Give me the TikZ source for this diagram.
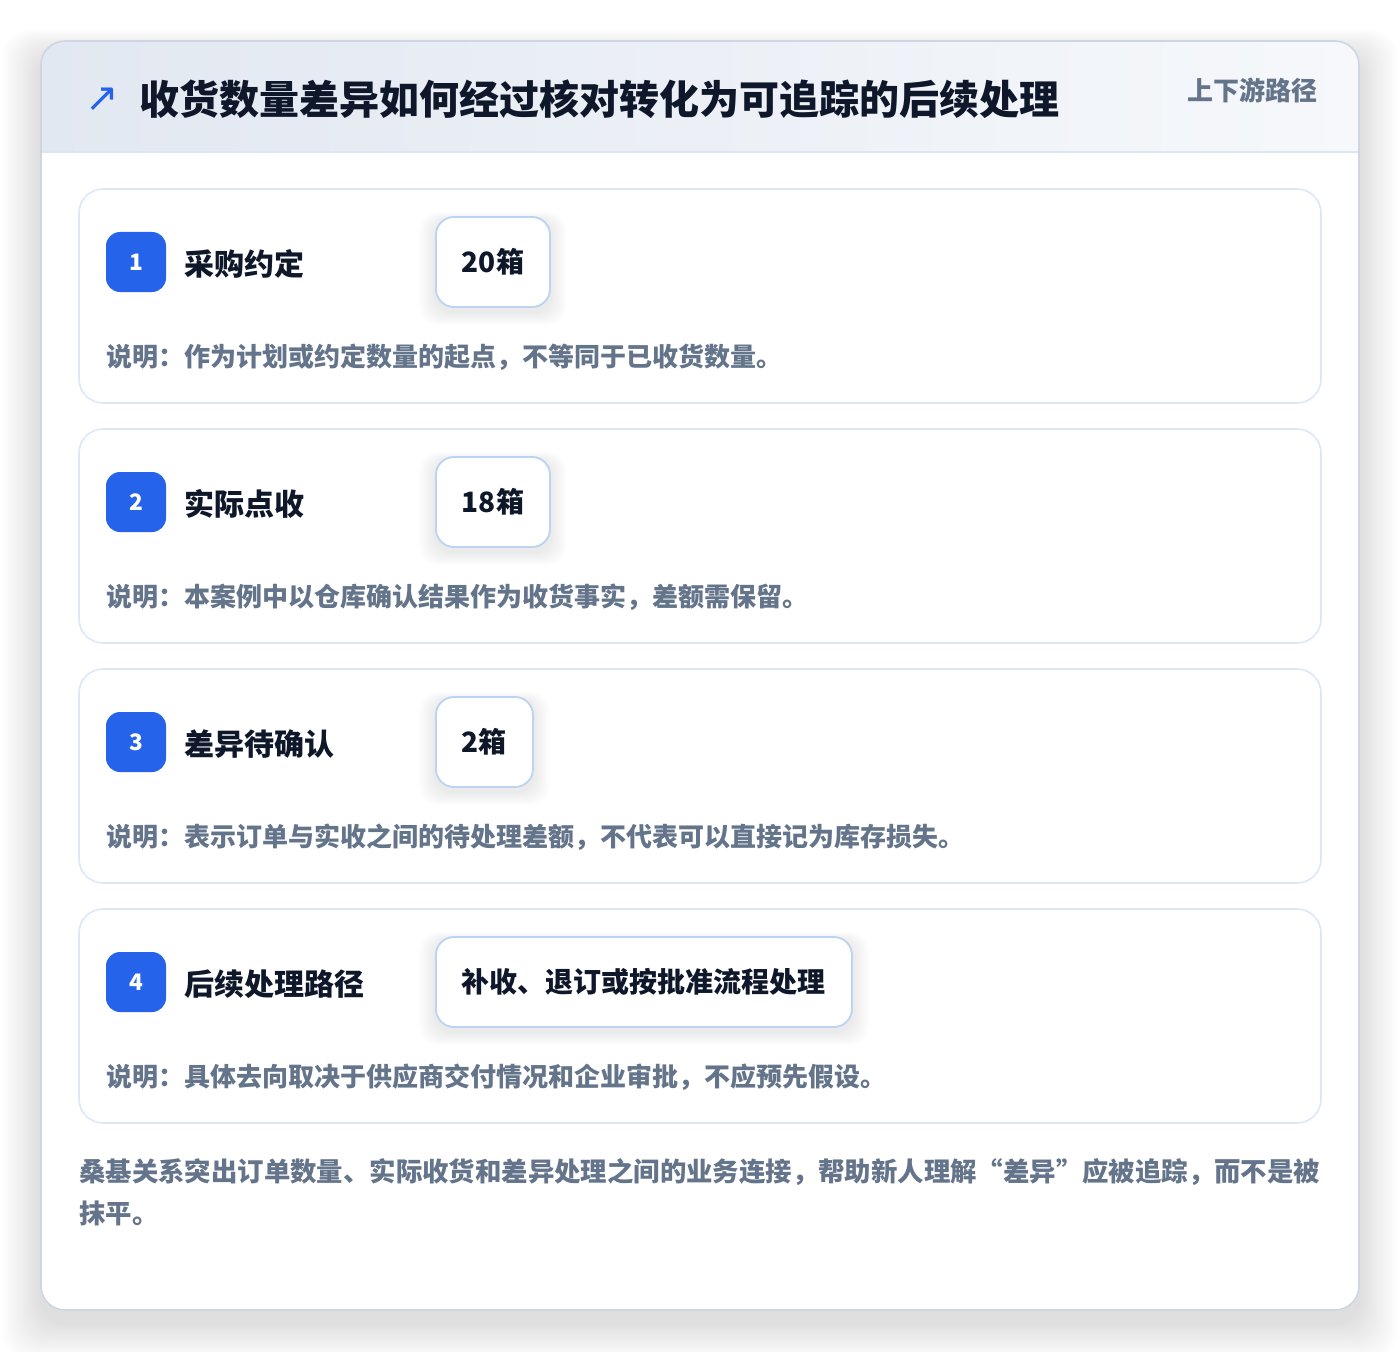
\documentclass[tikz,border=0pt]{standalone}
\usepackage{fontspec}
\setmainfont{Noto Sans CJK SC}
\newfontfamily\symfont{DejaVu Sans}
\definecolor{brand}{HTML}{2563EB}
\definecolor{ink}{HTML}{0F172A}
\definecolor{muted}{HTML}{64748B}
\definecolor{cardline}{HTML}{CDD6E2}
\definecolor{stepline}{HTML}{DCE8F7}
\definecolor{valline}{HTML}{BCD4F2}
\definecolor{headL}{HTML}{E2E8F1}
\definecolor{headR}{HTML}{F6F8FB}
\definecolor{headline}{HTML}{DAE6F6}
\pgfdeclarelayer{back}
\pgfdeclarelayer{shade}
\pgfsetlayers{back,shade,main}
\tikzset{
  stepcard/.style={draw=stepline, line width=1.2pt, fill=white, rounded corners=18pt,
    minimum width=931.5pt, minimum height=160.5pt, inner sep=0pt},
  badge/.style={fill=brand, rounded corners=10.5pt, minimum width=45pt, minimum height=45pt,
    inner sep=0pt, text=white, font=\fontsize{17pt}{18pt}\selectfont\bfseries},
  steplabel/.style={inner sep=0pt, text=ink, font=\fontsize{22.5pt}{26pt}\selectfont\bfseries},
  valbox/.style={draw=valline, line width=1.4pt, fill=white, rounded corners=13.5pt,
    minimum height=67.5pt, inner xsep=19.5pt, inner ysep=0pt, text=ink,
    font=\fontsize{21pt}{24pt}\selectfont\bfseries},
  desctext/.style={inner sep=0pt, text=muted, font=\fontsize{19.5pt}{22pt}\selectfont\bfseries},
}
\begin{document}
\begin{tikzpicture}[x=0.75pt,y=-0.75pt]
\useasboundingbox (0,0) rectangle (1400,1352);
\begin{pgfonlayer}{back}
\fill[white] (0,0) rectangle (1400,1352);
% outer card shadow
\foreach \k in {1,...,16}{
  \fill[black, opacity=0.008, rounded corners=20pt]
    ({41-\k*2.4},{41-\k*1.6+14}) rectangle ({1359+\k*2.4},{1310+\k*2.4+12});
}
% card body
\fill[white, rounded corners=18pt] (41,41) rectangle (1359,1310);
\begin{scope}
  \clip[rounded corners=18pt] (41,41) rectangle (1359,1310);
  \shade[left color=headL, right color=headR] (41,41) rectangle (1359,152);
\end{scope}
\draw[headline, line width=1.2pt] (41,152) -- (1359,152);
\draw[cardline, line width=1.2pt, rounded corners=18pt] (41,41) rectangle (1359,1310);
\end{pgfonlayer}
% title
\node[inner sep=0pt, text=brand, font=\symfont\fontsize{30pt}{32pt}\selectfont] (icon) at (102,100) {↗};
\node[anchor=west, inner sep=0pt, text=ink, font=\fontsize{30pt}{34pt}\selectfont\bfseries] (title) at (139,99) {收货数量差异如何经过核对转化为可追踪的后续处理};
\node[anchor=east, inner sep=0pt, text=muted, font=\fontsize{19.5pt}{22pt}\selectfont\bfseries] (tag) at (1318,90) {上下游路径};
% steps
\foreach \i/\t/\lab/\val/\desc in {
  1/189/采购约定/20箱/说明：作为计划或约定数量的起点，不等同于已收货数量。,
  2/429/实际点收/18箱/说明：本案例中以仓库确认结果作为收货事实，差额需保留。,
  3/669/差异待确认/2箱/说明：表示订单与实收之间的待处理差额，不代表可以直接记为库存损失。,
  4/909/后续处理路径/补收、退订或按批准流程处理/说明：具体去向取决于供应商交付情况和企业审批，不应预先假设。}{
  \begin{pgfonlayer}{back}
    \node[stepcard] (card\i) at (700,{\t+107}) {};
  \end{pgfonlayer}
  \node[badge] (badge\i) at (136,{\t+73}) {\i};
  \node[steplabel, anchor=west] (label\i) at (184,{\t+75}) {\lab};
  \node[valbox, anchor=west] (val\i) at (435,{\t+73}) {\val};
  \begin{pgfonlayer}{shade}
    \foreach \k in {1,...,10}{
      \fill[black, opacity=0.007, rounded corners=14pt]
        ([xshift={-\k*1.2pt}, yshift={-\k*1.0pt-3pt}]val\i.south west) rectangle
        ([xshift={\k*1.2pt}, yshift={\k*0.6pt-3pt}]val\i.north east);
    }
  \end{pgfonlayer}
  \node[desctext, anchor=west] (desc\i) at (106,{\t+168}) {\desc};
}
% footer
\node[anchor=north west, align=left, inner sep=0pt, text=muted,
  font=\fontsize{19.8pt}{31.5pt}\selectfont\bfseries] (note) at (79,1158)
  {桑基关系突出订单数量、实际收货和差异处理之间的业务连接，帮助新人理解“差异”应被追踪，而不是被\\抹平。};
\end{tikzpicture}
\end{document}
